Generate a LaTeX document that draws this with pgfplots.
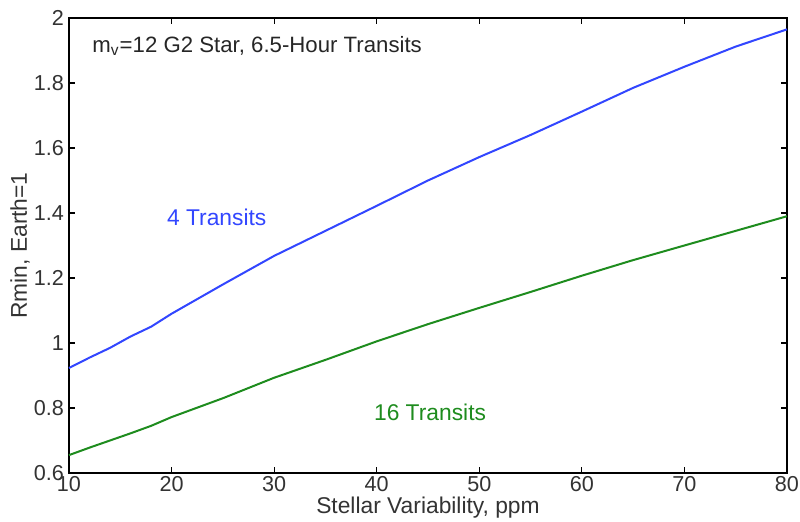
\documentclass[border=0pt]{standalone}
\usepackage{pgfplots}
\pgfplotsset{compat=1.18}
\usepackage{fontspec}
\setmainfont{Liberation Sans}
\definecolor{mblue}{RGB}{50,70,255}
\definecolor{mgreen}{RGB}{30,140,30}
\begin{document}
\begin{tikzpicture}
\useasboundingbox (-34.5pt,-24.5pt) rectangle (365.5pt,236.5pt);
\begin{axis}[
  scale only axis,
  width=359pt, height=227.5pt,
  xmin=10, xmax=80, ymin=0.6, ymax=2,
  xtick={10,20,...,80},
  ytick={0.6,0.8,1,1.2,1.4,1.6,1.8,2},
  yticklabels={0.6,0.8,1,1.2,1.4,1.6,1.8,2},
  tick align=inside,
  major tick length=3pt,
  tick style={black, line width=0.6pt},
  axis line style={line width=0.6pt},
  ticklabel style={font=\fontsize{10.8}{12}\selectfont, text=black!80},
  /pgf/number format/assume math mode=true,
  xticklabel style={yshift=2pt},
  yticklabel style={xshift=1pt},
  xlabel={Stellar Variability, ppm},
  ylabel={Rmin, Earth=1},
  label style={font=\fontsize{11.4}{13}\selectfont, text=black!80},
  xlabel style={at={(axis description cs:0.5,-0.077)}, anchor=center},
  ylabel style={at={(axis description cs:-0.068,0.5)}, anchor=center},
  clip=false,
]
\addplot[mblue, line width=1pt] coordinates {
(10,0.923) (12,0.955) (14,0.985) (16,1.02) (18,1.05) (20,1.09) (25,1.18) (30,1.268) (35,1.345) (40,1.422) (45,1.5) (50,1.572) (55,1.64) (60,1.712) (65,1.785) (70,1.85) (75,1.912) (80,1.965)
};
\addplot[mgreen, line width=1pt] coordinates {
(10,0.655) (12,0.678) (14,0.7) (16,0.722) (18,0.745) (20,0.772) (25,0.83) (30,0.893) (35,0.948) (40,1.005) (45,1.058) (50,1.108) (55,1.157) (60,1.207) (65,1.255) (70,1.3) (75,1.345) (80,1.39)
};
\node[anchor=west, font=\fontsize{11.1}{13}\selectfont, text=black!85] at (axis cs:11.6,1.914) {m\textsubscript{v}=12 G2 Star, 6.5-Hour Transits};
\node[font=\fontsize{11.4}{13}\selectfont, text=mblue] at (axis cs:24.4,1.387) {4 Transits};
\node[font=\fontsize{11.4}{13}\selectfont, text=mgreen] at (axis cs:45.2,0.788) {16 Transits};
\end{axis}
\end{tikzpicture}
\end{document}
